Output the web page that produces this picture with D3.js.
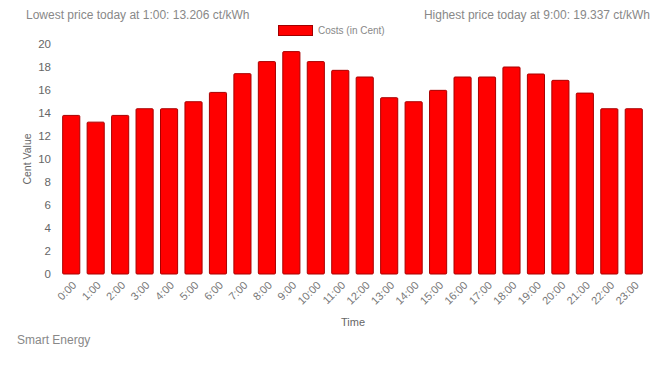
<!DOCTYPE html>
<html>
<head>
<meta charset="utf-8">
<script src="https://cdn.jsdelivr.net/npm/d3@7"></script>
<style>
  body { margin: 0; background: #fff; }
  svg { display: block; font-family: "Liberation Sans", Arial, sans-serif; }
</style>
</head>
<body>
<div id="chart"></div>
<script>
// hourly labels and prices (ct/kWh)
const hours = ["0:00", "1:00", "2:00", "3:00", "4:00", "5:00", "6:00", "7:00", "8:00", "9:00", "10:00", "11:00",
  "12:00", "13:00", "14:00", "15:00", "16:00", "17:00", "18:00", "19:00", "20:00", "21:00", "22:00", "23:00"];
const costs = [13.79, 13.206, 13.79, 14.37, 14.37, 14.98, 15.79, 17.42, 18.47, 19.337, 18.47, 17.71,
  17.13, 15.33, 14.98, 15.97, 17.13, 17.13, 18.0, 17.39, 16.84, 15.73, 14.37, 14.37];
const yTicks = [0, 2, 4, 6, 8, 10, 12, 14, 16, 18, 20];
const seriesName = "Costs (in Cent)";
const lowText = "Lowest price today at 1:00: 13.206 ct/kWh";
const highText = "Highest price today at 9:00: 19.337 ct/kWh";

const width = 664, height = 376;
const margin = { left: 59, right: 18, top: 44, bottom: 102 };
const boundedWidth = width - margin.left - margin.right;
const boundedHeight = height - margin.top - margin.bottom;

const svg = d3.select("#chart").append("svg")
    .attr("width", width)
    .attr("height", height);

// header texts
svg.append("text").attr("x", 26).attr("y", 19)
    .attr("font-size", 12).attr("fill", "#888").text(lowText);
svg.append("text").attr("x", 650).attr("y", 19).attr("text-anchor", "end")
    .attr("font-size", 12).attr("fill", "#888").text(highText);

// legend
svg.append("rect").attr("x", 278.5).attr("y", 25.5).attr("width", 34).attr("height", 10)
    .attr("fill", "#ff0000").attr("stroke", "#a00000").attr("stroke-width", 1);
svg.append("text").attr("x", 318).attr("y", 34)
    .attr("font-size", 10).attr("fill", "#888").text(seriesName);

const x = d3.scaleBand()
    .domain(hours)
    .range([0, boundedWidth])
    .paddingInner(0.3)
    .paddingOuter(0.15);
const y = d3.scaleLinear()
    .domain([0, 20])
    .range([boundedHeight, 0]);

const g = svg.append("g")
    .attr("transform", "translate(" + margin.left + "," + margin.top + ")");

// y axis, labels only
const yAxis = g.append("g")
    .call(d3.axisLeft(y).tickValues(yTicks).tickSize(0).tickPadding(8));
yAxis.select(".domain").remove();
yAxis.selectAll("text").attr("font-size", 11.5).attr("fill", "#666")
    .attr("font-family", "Liberation Sans, Arial, sans-serif");

// x axis, rotated labels
const xAxis = g.append("g")
    .attr("transform", "translate(0," + boundedHeight + ")")
    .call(d3.axisBottom(x).tickSize(0));
xAxis.select(".domain").remove();
xAxis.selectAll("text")
    .attr("font-size", 11).attr("fill", "#777")
    .attr("font-family", "Liberation Sans, Arial, sans-serif")
    .attr("text-anchor", "end")
    .attr("dy", "0.35em")
    .attr("transform", "translate(1,7) rotate(-45)");

// bars
g.selectAll(".bar")
    .data(costs)
    .join("rect")
    .attr("class", "bar")
    .attr("x", (d, i) => x(hours[i]))
    .attr("y", d => y(d))
    .attr("width", x.bandwidth())
    .attr("height", d => boundedHeight - y(d))
    .attr("rx", 1)
    .attr("fill", "#ff0000")
    .attr("stroke", "#a80000")
    .attr("stroke-width", 1);

// axis titles
svg.append("text")
    .attr("transform", "translate(27," + (margin.top + boundedHeight / 2) + ") rotate(-90)")
    .attr("text-anchor", "middle")
    .attr("dy", "0.35em")
    .attr("font-size", 10.5).attr("fill", "#666").text("Cent Value");
svg.append("text").attr("x", 353).attr("y", 326).attr("text-anchor", "middle")
    .attr("font-size", 11).attr("fill", "#666").text("Time");

svg.append("text").attr("x", 17).attr("y", 344)
    .attr("font-size", 12).attr("fill", "#888").text("Smart Energy");
</script>
</body>
</html>
